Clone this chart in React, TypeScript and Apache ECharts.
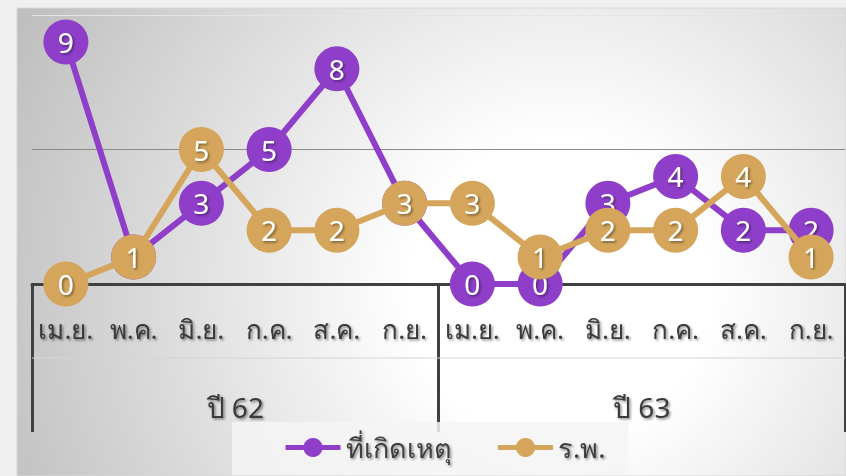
import React, { useEffect, useRef } from "react";
import * as echarts from "echarts";

const months = ["เม.ย.", "พ.ค.", "มิ.ย.", "ก.ค.", "ส.ค.", "ก.ย.", "เม.ย.", "พ.ค.", "มิ.ย.", "ก.ค.", "ส.ค.", "ก.ย."];
const years = ["ปี 62", "ปี 63"];
const sceneValues = [9, 1, 3, 5, 8, 3, 0, 0, 3, 4, 2, 2];
const hospitalValues = [0, 1, 5, 2, 2, 3, 3, 1, 2, 2, 4, 1];
const seriesNames = ["ที่เกิดเหตุ", "ร.พ."];

const PURPLE = "#8E3EC8";
const GOLD = "#D4A55A";
const FONT = "'Noto Sans', 'DejaVu Sans', sans-serif";

const textShadow = {
  textShadowColor: "rgba(0,0,0,0.45)",
  textShadowBlur: 2,
  textShadowOffsetX: 1.5,
  textShadowOffsetY: 1.5,
};

export default function App() {
  const ref = useRef<HTMLDivElement>(null);
  useEffect(() => {
    if (!ref.current) return;
    const chart = echarts.init(ref.current, undefined, { renderer: "svg" });
    const mkSeries = (name: string, data: number[], color: string, z: number) => ({
      name,
      type: "line",
      data,
      z,
      clip: false,
      symbol: "circle",
      symbolSize: 45,
      lineStyle: { color, width: 6 },
      itemStyle: { color },
      label: {
        show: true,
        position: "inside",
        color: "#fff",
        fontSize: 28,
        fontFamily: FONT,
        ...textShadow,
      },
      emphasis: { disabled: true },
    });
    chart.setOption({
      animation: false,
      backgroundColor: "#f0f0f0",
      graphic: [
        {
          type: "rect",
          z: -10,
          silent: true,
          shape: { x: 17, y: 8, width: 829, height: 468 },
          style: {
            fill: new echarts.graphic.RadialGradient(
              560,
              290,
              600,
              [
                { offset: 0, color: "#ffffff" },
                { offset: 0.25, color: "#ffffff" },
                { offset: 1, color: "#bfbfbf" },
              ],
              true
            ),
            stroke: "#d6d6d6",
            lineWidth: 1,
          },
        },
        {
          type: "line",
          z: 1,
          silent: true,
          shape: { x1: 32, y1: 358, x2: 845, y2: 358 },
          style: { stroke: "#d4d4d4", lineWidth: 1 },
        },
      ],
      grid: { left: 32, right: 1, top: 15, bottom: 192 },
      legend: {
        data: seriesNames,
        left: 232,
        top: 422,
        padding: [12, 23, 14, 51],
        itemGap: 44,
        itemWidth: 55,
        itemHeight: 24,
        lineStyle: { width: 5 },
        backgroundColor: "rgba(244,244,244,0.85)",
        textStyle: { fontSize: 27, color: "#404040", fontFamily: FONT, ...textShadow },
      },
      xAxis: [
        {
          type: "category",
          data: months,
          position: "bottom",
          axisLine: { show: true, lineStyle: { color: "#404040", width: 3 } },
          axisTick: { show: false },
          axisLabel: {
            interval: 0,
            margin: 32,
            fontSize: 26,
            color: "#3a3a3a",
            fontFamily: FONT,
            ...textShadow,
          },
          splitLine: { show: false },
        },
        {
          type: "category",
          data: years,
          position: "bottom",
          axisLine: { show: false },
          axisTick: { show: true, length: 148, lineStyle: { color: "#404040", width: 3 } },
          axisLabel: {
            interval: 0,
            margin: 109,
            fontSize: 28,
            color: "#3a3a3a",
            fontFamily: FONT,
            ...textShadow,
          },
          splitLine: { show: false },
        },
      ],
      yAxis: {
        type: "value",
        min: 0,
        max: 10,
        interval: 5,
        axisLine: { show: false },
        axisTick: { show: false },
        axisLabel: { show: false },
        splitLine: { show: true, lineStyle: { color: ["#8a8a8a", "#8a8a8a", "#e4e4e4"], width: 1 } },
      },
      series: [
        mkSeries(seriesNames[0], sceneValues, PURPLE, 3),
        mkSeries(seriesNames[1], hospitalValues, GOLD, 4),
      ],
    });
    return () => chart.dispose();
  }, []);
  return (
    <div
      ref={ref}
      style={{ position: "fixed", left: 0, top: 0, width: 846, height: 476 }}
    />
  );
}
